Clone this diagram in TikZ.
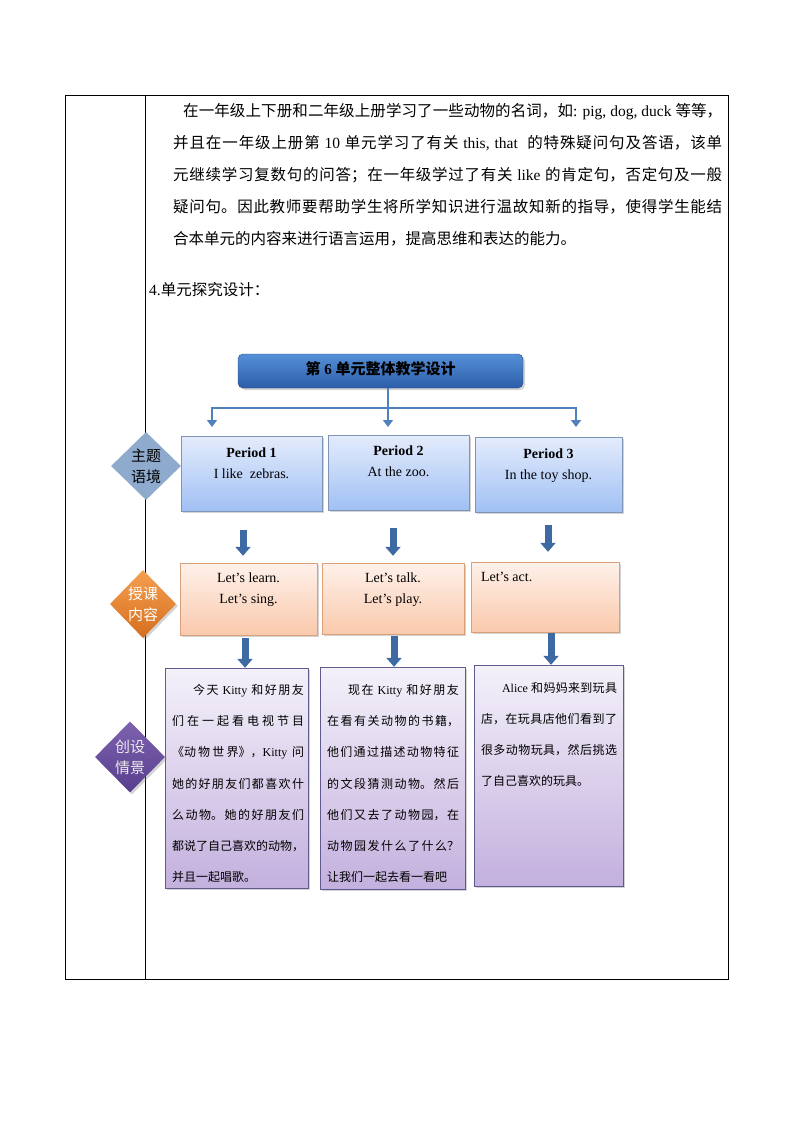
\documentclass[tikz,border=0pt]{standalone}
\usepackage{fontspec}
\setmainfont{Noto Sans CJK SC}
\newfontfamily\tnr{Liberation Serif}
\newcommand\en[1]{{\tnr #1}}
\usetikzlibrary{shapes.geometric,shadows,arrows.meta,positioning}
\definecolor{linkblue}{HTML}{4F81BD}
\definecolor{fatblue}{HTML}{3D6AA2}
\definecolor{periodline}{HTML}{7F95B5}
\definecolor{periodtop}{HTML}{E4ECFC}
\definecolor{periodbot}{HTML}{A0C0F4}
\definecolor{lessonline}{HTML}{D9A07A}
\definecolor{lessontop}{HTML}{FEF1EA}
\definecolor{lessonbot}{HTML}{FAC9AC}
\definecolor{sceneline}{HTML}{5F5B8E}
\definecolor{scenetop}{HTML}{F4F1FA}
\definecolor{scenebot}{HTML}{C3B0DE}
\definecolor{titletop}{HTML}{5590D8}
\definecolor{titlebot}{HTML}{2C5DA8}
\XeTeXlinebreaklocale "zh"
\XeTeXlinebreakskip=0pt plus 2pt minus 0.3pt
\tolerance=10000
\tikzset{
  boxshadow/.style={drop shadow={opacity=0.35,shadow xshift=2pt,shadow yshift=-2pt}},
  periodbox/.style={draw=periodline,top color=periodtop,bottom color=periodbot,boxshadow,inner sep=0pt},
  lessonbox/.style={draw=lessonline,top color=lessontop,bottom color=lessonbot,boxshadow,inner sep=0pt},
  scenebox/.style={draw=sceneline,top color=scenetop,bottom color=scenebot,boxshadow,inner sep=0pt},
  diam/.style={diamond,inner sep=0pt,align=center,font=\fontsize{15pt}{21pt}\selectfont},
  link/.style={linkblue,line width=2.5pt,-{Triangle[width=10pt,length=7pt]}},
  fatarrow/.style={fatblue,line width=7pt,-{Triangle[width=15pt,length=9pt]}},
  engtext/.style={align=center,inner sep=0pt,font=\tnr\fontsize{14pt}{21pt}\selectfont},
  scenetext/.style={anchor=north west,text width=132pt,align=justify,inner sep=0pt,font=\fontsize{12pt}{31.3pt}\selectfont}
}
\begin{document}
\begin{tikzpicture}[x=1pt,y=-1pt]
\useasboundingbox (0,0) rectangle (794,1123);
% table frame
\draw[line width=1pt] (65,96) rectangle (728,979);
\draw[line width=1pt] (145,96) -- (145,979);
% intro text
\node[anchor=north west,text width=549pt,align=justify,inner sep=0pt,font=\fontsize{15.5pt}{32pt}\selectfont] (intro) at (173,103) {\hspace*{10pt}在一年级上下册和二年级上册学习了一些动物的名词，如\en{: pig, dog, duck }等等，\linebreak 并且在一年级上册第\en{ 10 }单元学习了有关\en{ this, that~ }的特殊疑问句及答语，该单\linebreak 元继续学习复数句的问答；在一年级学过了有关\en{ like }的肯定句，否定句及一般\linebreak 疑问句。因此教师要帮助学生将所学知识进行温故知新的指导，使得学生能结\linebreak 合本单元的内容来进行语言运用，提高思维和表达的能力。};
\node[anchor=west,inner sep=0pt,font=\fontsize{15.5pt}{20pt}\selectfont] (heading) at (149,290) {\en{4.}单元探究设计：};
% title
\node[draw=titlebot!80!black,rounded corners=5pt,top color=titletop,bottom color=titlebot,boxshadow,minimum width=285pt,minimum height=34pt,inner sep=0pt,text depth=6pt,font=\bfseries\fontsize{15pt}{18pt}\selectfont] (title) at (380.5,371) {第\en{\bfseries{} 6 }单元整体教学设计};
% branch connector
\coordinate (b1) at (212,408);
\coordinate (b3) at (576,408);
\coordinate (t1) at (212,427);
\coordinate (t2) at (388,427);
\coordinate (t3) at (576,427);
\draw[link] (title.south -| t2) -- (t2);
\draw[linkblue,line width=2.5pt] (b1) -- (b3);
\draw[link] ([yshift=1.25pt]b1) -- (t1);
\draw[link] ([yshift=1.25pt]b3) -- (t3);
% periods
\node[periodbox,minimum width=141pt,minimum height=75pt] (p1) at (251.5,473.5) {};
\node[periodbox,minimum width=141pt,minimum height=75pt] (p2) at (398.5,472.5) {};
\node[periodbox,minimum width=147pt,minimum height=75pt] (p3) at (548.5,474.5) {};
\node[engtext,below=12pt of p1.north] (p1t) {\textbf{Period 1}\\I like~ zebras.};
\node[engtext,below=11pt of p2.north] (p2t) {\textbf{Period 2}\\At the zoo.};
\node[engtext,below=12pt of p3.north] (p3t) {\textbf{Period 3}\\In the toy shop.};
% lessons
\node[lessonbox,minimum width=137pt,minimum height=72pt] (c1) at (248.5,599) {};
\node[lessonbox,minimum width=142pt,minimum height=71pt] (c2) at (393,598.5) {};
\node[lessonbox,minimum width=148pt,minimum height=70pt] (c3) at (545,597) {};
\node[engtext,below=10pt of c1.north] (c1t) {Let’s learn.\\Let’s sing.};
\node[engtext,below=10pt of c2.north] (c2t) {Let’s talk.\\Let’s play.};
\node[engtext,anchor=north west] (c3t) at ([xshift=10pt,yshift=-10pt]c3.north west) {Let’s act.};
% scenes
\node[scenebox,minimum width=143pt,minimum height=220pt] (s1) at (236.5,778) {};
\node[scenebox,minimum width=145pt,minimum height=222pt] (s2) at (392.5,778) {};
\node[scenebox,minimum width=149pt,minimum height=221pt] (s3) at (548.5,775.5) {};
\node[scenetext] (s1t) at ([xshift=7pt,yshift=-16pt]s1.north west) {\hspace*{21pt}今天\en{ Kitty }和好朋友\linebreak 们在一起看电视节目\linebreak 《动物世界》，\en{Kitty }问\linebreak 她的好朋友们都喜欢什\linebreak 么动物。她的好朋友们\linebreak 都说了自己喜欢的动物，\linebreak 并且一起唱歌。};
\node[scenetext] (s2t) at ([xshift=7pt,yshift=-17pt]s2.north west) {\parfillskip=0pt\hspace*{21pt}现在\en{ Kitty }和好朋友\linebreak 在看有关动物的书籍，\linebreak 他们通过描述动物特征\linebreak 的文段猜测动物。然后\linebreak 他们又去了动物园，在\linebreak 动物园发什么了什么？\linebreak 让我们一起去看一看吧};
\node[scenetext,text width=136pt] (s3t) at ([xshift=7pt,yshift=-17pt]s3.north west) {\hspace*{21pt}\en{Alice }和妈妈来到玩具\linebreak 店，在玩具店他们看到了\linebreak 很多动物玩具，然后挑选\linebreak 了自己喜欢的玩具。};
% block arrows
\coordinate (f1) at (243,530);
\coordinate (f2) at (393,528);
\coordinate (f3) at (548,525);
\coordinate (g1) at (245,638);
\coordinate (g2) at (394,636);
\coordinate (g3) at (551,633);
\draw[fatarrow] (f1) -- ([yshift=7pt]f1 |- c1.north);
\draw[fatarrow] (f2) -- ([yshift=7pt]f2 |- c2.north);
\draw[fatarrow] (f3) -- ([yshift=10pt]f3 |- c3.north);
\draw[fatarrow] (g1) -- (g1 |- s1.north);
\draw[fatarrow] (g2) -- (g2 |- s2.north);
\draw[fatarrow] (g3) -- (g3 |- s3.north);
% side diamonds
\node[diam,fill={rgb,255:red,142;green,170;blue,205},minimum width=70pt,minimum height=68pt] (d1) at (146,466) {主题\\语境};
\node[diam,top color={rgb,255:red,244;green,160;blue,80},bottom color={rgb,255:red,214;green,110;blue,30},boxshadow,text=white,minimum width=66pt,minimum height=68pt] (d2) at (143,604) {授课\\内容};
\node[diam,top color={rgb,255:red,125;green,98;blue,175},bottom color={rgb,255:red,88;green,62;blue,140},boxshadow,text=white!92!black,minimum width=70pt,minimum height=71pt] (d3) at (130,757) {创设\\情景};
\end{tikzpicture}
\end{document}
